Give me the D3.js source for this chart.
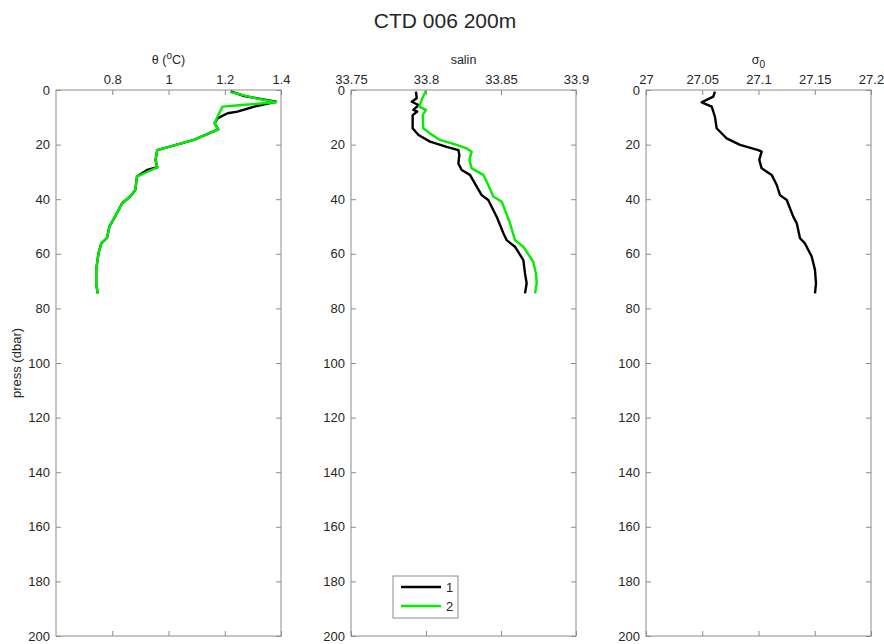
<!DOCTYPE html>
<html>
<head>
<meta charset="utf-8">
<script src="https://cdn.jsdelivr.net/npm/d3@7"></script>
<style>
  body { margin: 0; background: #fff; }
  text { font-family: "Liberation Sans", Arial, sans-serif; fill: #262626; }
</style>
</head>
<body>
<div id="graph"></div>
<script>
const width = 884
const height = 644

// pressure ticks (dbar)
const pressTicks = [0, 20, 40, 60, 80, 100, 120, 140, 160, 180, 200]

// theta profiles [value, pressure]
const theta1 = [[1.221, 0.5], [1.269, 2.2], [1.382, 4.3], [1.305, 6.1], [1.245, 7.9], [1.21, 8.5], [1.174, 10.4],
  [1.164, 12.2], [1.177, 14.4], [1.09, 18.3], [0.96, 22], [0.954, 25.6], [0.96, 28.3], [0.924, 29.3], [0.888, 31.7],
  [0.882, 36.6], [0.864, 39], [0.835, 41.5], [0.81, 46.4], [0.79, 50], [0.781, 54.3], [0.761, 56.2],
  [0.751, 59.8], [0.743, 65.9], [0.743, 70.8], [0.748, 74.5]]
const theta2 = [[1.221, 0.8], [1.3, 2.8], [1.382, 4.5], [1.25, 5.6], [1.192, 6.1], [1.174, 9.8],
  [1.164, 12.2], [1.177, 14.4], [1.09, 18.3], [0.96, 22], [0.954, 25.6], [0.96, 28.3], [0.888, 31.7],
  [0.882, 36.6], [0.864, 39], [0.835, 41.5], [0.81, 46.4], [0.79, 50], [0.781, 54.3], [0.761, 56.2],
  [0.751, 59.8], [0.743, 65.9], [0.743, 70.8], [0.748, 74.5]]

// salinity profiles
const salin1 = [[33.7933, 0.6], [33.7938, 3], [33.7905, 4.3], [33.795, 5.5], [33.7916, 7.3], [33.7942, 7.9],
  [33.7911, 9.2], [33.7911, 14], [33.795, 16.5], [33.8027, 18.9], [33.8138, 20.8], [33.8216, 22],
  [33.8222, 23.8], [33.8216, 26.9], [33.8238, 29.3], [33.8293, 31.1], [33.8338, 35.4], [33.8371, 38.5],
  [33.8415, 40.3], [33.8471, 46.4], [33.8516, 52.5], [33.8538, 55], [33.8593, 57.4], [33.8649, 62.3],
  [33.866, 67.2], [33.8671, 70.8], [33.866, 74.5]]
const salin2 = [[33.80, 0.2], [33.7971, 3.7], [33.7955, 6.1], [33.80, 7.3], [33.7978, 9.2], [33.7982, 14],
  [33.8027, 15.9], [33.8093, 18.3], [33.8205, 20.1], [33.8271, 21.4], [33.8305, 22.6], [33.8289, 25.6],
  [33.8305, 28.7], [33.8382, 31.1], [33.8415, 34.8], [33.8449, 39], [33.8505, 40.9], [33.856, 48.8],
  [33.8593, 55], [33.8649, 57.4], [33.8715, 62.9], [33.8733, 67.2], [33.8738, 70.8], [33.8727, 74.5]]

// sigma0 profile
const sigma1 = [[27.0613, 0.6], [27.0598, 2.4], [27.0495, 4.5], [27.0584, 6.1], [27.0613, 9.8], [27.0628, 14],
  [27.0717, 17.7], [27.0836, 20.1], [27.0998, 22], [27.1028, 22.6], [27.1007, 25.6], [27.1028, 28.7],
  [27.1117, 31.1], [27.1162, 34.8], [27.1191, 38.5], [27.1251, 40.3], [27.1309, 46.4], [27.134, 48.8],
  [27.1369, 54.3], [27.1413, 56.2], [27.1473, 61], [27.1502, 65.9], [27.1511, 70.8], [27.1502, 74.5]]

const panels = [
  { left: 56, domain: [0.6, 1.4], ticks: [0.8, 1, 1.2, 1.4], series: [theta1, theta2], title: 'theta' },
  { left: 351, domain: [33.75, 33.9], ticks: [33.75, 33.8, 33.85, 33.9], series: [salin1, salin2], title: 'salin' },
  { left: 646, domain: [27, 27.2], ticks: [27, 27.05, 27.1, 27.15, 27.2], series: [sigma1], title: 'sigma' }
]
const colors = ['#000000', '#00ee00']
const panelW = 225
const plotTop = 90
const plotBottom = 636

const svg = d3.select('#graph').append('svg')
  .attr('width', width)
  .attr('height', height)

const yScale = d3.scaleLinear().domain([0, 200]).range([plotTop, plotBottom])

svg.append('text')
  .attr('x', 445).attr('y', 28)
  .attr('text-anchor', 'middle')
  .attr('font-size', 21)
  .text('CTD 006 200m')

svg.append('text')
  .attr('transform', `translate(21,${(plotTop + plotBottom) / 2}) rotate(-90)`)
  .attr('text-anchor', 'middle')
  .attr('font-size', 13)
  .text('press (dbar)')

panels.forEach((p) => {
  const xScale = d3.scaleLinear().domain(p.domain).range([p.left, p.left + panelW])
  const g = svg.append('g')

  // box
  g.append('rect')
    .attr('x', p.left).attr('y', plotTop)
    .attr('width', panelW).attr('height', plotBottom - plotTop)
    .attr('fill', 'none').attr('stroke', '#8c8c8c').attr('stroke-width', 1)

  // y ticks (inward, both sides)
  const yAxisL = d3.axisLeft(yScale).tickValues(pressTicks).tickSizeInner(-5).tickSizeOuter(0).tickPadding(6)
  const yl = g.append('g').attr('transform', `translate(${p.left},0)`).call(yAxisL)
  const yAxisR = d3.axisRight(yScale).tickValues(pressTicks).tickSizeInner(-5).tickSizeOuter(0).tickFormat('')
  const yr = g.append('g').attr('transform', `translate(${p.left + panelW},0)`).call(yAxisR)

  // x ticks (top labelled, bottom mirrored)
  const xAxisT = d3.axisTop(xScale).tickValues(p.ticks).tickSizeInner(-5).tickSizeOuter(0).tickPadding(6).tickFormat(d => String(d))
  const xt = g.append('g').attr('transform', `translate(0,${plotTop})`).call(xAxisT)
  const xAxisB = d3.axisBottom(xScale).tickValues(p.ticks).tickSizeInner(-5).tickSizeOuter(0).tickFormat('')
  const xb = g.append('g').attr('transform', `translate(0,${plotBottom})`).call(xAxisB)

  ;[yl, yr, xt, xb].forEach(a => {
    a.select('.domain').remove()
    a.selectAll('line').attr('stroke', '#8c8c8c')
    a.selectAll('text').attr('font-size', 13).attr('fill', '#262626')
      .attr('font-family', '"Liberation Sans", Arial, sans-serif')
  })

  // profiles
  const line = d3.line().x(d => xScale(d[0])).y(d => yScale(d[1]))
  p.series.forEach((s, i) => {
    g.append('path')
      .datum(s)
      .attr('d', line)
      .attr('fill', 'none')
      .attr('stroke', colors[i])
      .attr('stroke-width', 2.4)
      .attr('stroke-linejoin', 'round')
  })

  // panel title
  const cx = p.left + panelW / 2
  const t = g.append('text').attr('x', cx).attr('y', 64).attr('text-anchor', 'middle').attr('font-size', 12.5)
  if (p.title === 'theta') {
    t.append('tspan').text('θ (')
    t.append('tspan').attr('dy', -5).attr('font-size', 10).text('o')
    t.append('tspan').attr('dy', 5).text('C)')
  } else if (p.title === 'sigma') {
    t.append('tspan').text('σ')
    t.append('tspan').attr('dy', 4).attr('font-size', 10).text('0')
  } else {
    t.text(p.title)
  }
})

// legend
const legend = svg.append('g').attr('transform', 'translate(393,576)')
legend.append('rect')
  .attr('width', 65).attr('height', 42)
  .attr('fill', '#fff').attr('stroke', '#8c8c8c')
;['1', '2'].forEach((name, i) => {
  const y = 11 + i * 19
  legend.append('line')
    .attr('x1', 8).attr('x2', 48).attr('y1', y).attr('y2', y)
    .attr('stroke', colors[i]).attr('stroke-width', 2.4)
  legend.append('text')
    .attr('x', 53).attr('y', y + 5)
    .attr('font-size', 13)
    .text(name)
})
</script>
</body>
</html>
